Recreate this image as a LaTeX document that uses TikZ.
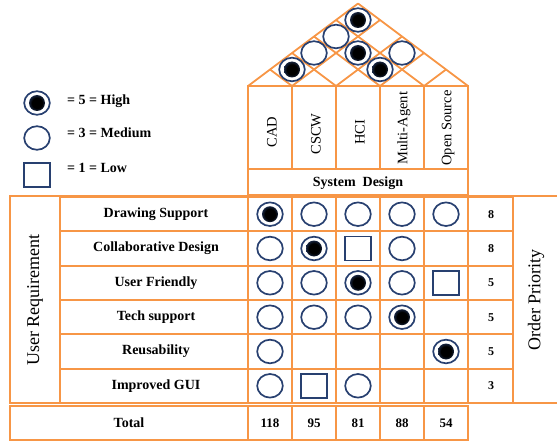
\documentclass[tikz,border=0pt]{standalone}
\usepackage{fontspec}
\setmainfont{Liberation Serif}
\definecolor{org}{RGB}{247,150,70}
\definecolor{navyc}{RGB}{40,64,112}
\pgfdeclareradialshading{hdot}{\pgfpoint{0bp}{0bp}}{color(0bp)=(black); color(16bp)=(black); color(33bp)=(navyc); color(50bp)=(white)}
\tikzset{
  ln/.style={draw=org, line width=1.8pt},
  symline/.style={draw=navyc, line width=1.7pt},
  lbl/.style={font=\bfseries\fontsize{14}{16}\selectfont, inner sep=0pt},
  hdr/.style={font=\fontsize{14.5}{16}\selectfont, rotate=90, inner sep=0pt},
  big/.style={font=\fontsize{18}{20}\selectfont, rotate=90, inner sep=0pt},
  num/.style={font=\bfseries\fontsize{13}{15}\selectfont, inner sep=0pt},
  pnum/.style={font=\bfseries\fontsize{12}{14}\selectfont, inner sep=0pt}
}
\newcommand\qqH[2]{\draw[symline] (#1,#2) ellipse [x radius=12.8pt, y radius=11.8pt];
  \shade[shading=hdot] (#1,#2) circle [radius=8pt];}
\newcommand\qqM[2]{\draw[symline] (#1,#2) ellipse [x radius=12.8pt, y radius=11.8pt];}
\newcommand\qqL[2]{\draw[symline] ($(#1,#2)+(-13pt,-12pt)$) rectangle ($(#1,#2)+(13pt,12pt)$);}
\usetikzlibrary{calc}
\begin{document}
\begin{tikzpicture}[x=1pt,y=-1pt]
\useasboundingbox (0,0) rectangle (557,441);
% ---------- roof ----------
\foreach \k in {0,...,5}{
  \pgfmathsetmacro\bx{248+44*\k}
  \draw[ln] (\bx,86) -- ({(\bx+468)/2},{86-0.375*(468-\bx)});
  \draw[ln] (\bx,86) -- ({(\bx+248)/2},{86-0.375*(\bx-248)});
}
% ---------- house columns ----------
\draw[ln] (248,86) rectangle (468,169);
\foreach \x in {292,336,380,424} \draw[ln] (\x,86) -- (\x,169);
\draw[ln] (248,169) rectangle (468,195);
\node[hdr] (cad) at (272,132) {CAD};
\node[hdr] (cscw) at (316,134) {CSCW};
\node[hdr] (hci) at (360,132) {HCI};
\node[hdr] (ma) at (404,128) {Multi-Agent};
\node[hdr] (os) at (448,128) {Open Source};
\node[lbl] (sd) at (358,183) {System\ \ Design};
% ---------- roof symbols ----------
\qqH{358}{20}
\qqM{336}{36.5}
\qqM{314}{53}
\qqH{292}{69.5}
\qqH{358}{53}
\qqM{402}{53}
\qqH{380}{69.5}
% ---------- legend ----------
\qqH{37}{103}
\qqM{37}{138}
\qqL{37}{175}
\node[lbl, anchor=west] (lh) at (67,101) {= 5 = High};
\node[lbl, anchor=west] (lm) at (67,133) {= 3 = Medium};
\node[lbl, anchor=west] (ll) at (67,168) {= 1 = Low};
% ---------- main grid ----------
\draw[org, line width=2.8pt] (10,196) -- (557,196);
\draw[ln] (10,196) rectangle (60,403);
\foreach \y in {197,231.33,265.67,300,334.33,368.67,403} \draw[ln] (60,\y) -- (513,\y);
\foreach \x in {60,248,292,336,380,424,468,513} \draw[ln] (\x,197) -- (\x,403);
\draw[ln] (513,403) -- (557,403);
\node[big] (ur) at (35,300) {User Requirement};
\node[big] (op) at (536,300) {Order Priority};
% requirement labels
\node[lbl] (r1) at (156,214.2) {Drawing Support};
\node[lbl] (r2) at (156,248.5) {Collaborative Design};
\node[lbl] (r3) at (156,282.8) {User Friendly};
\node[lbl] (r4) at (156,317.2) {Tech support};
\node[lbl] (r5) at (156,351.5) {Reusability};
\node[lbl] (r6) at (156,385.8) {Improved GUI};
% priorities
\node[pnum] (p1) at (491,214.2) {8};
\node[pnum] (p2) at (491,248.5) {8};
\node[pnum] (p3) at (491,282.8) {5};
\node[pnum] (p4) at (491,317.2) {5};
\node[pnum] (p5) at (491,351.5) {5};
\node[pnum] (p6) at (491,385.8) {3};
% matrix symbols
\qqH{270}{214.2} \qqM{314}{214.2} \qqM{358}{214.2} \qqM{402}{214.2} \qqM{446}{214.2}
\qqM{270}{248.5} \qqH{314}{248.5} \qqL{358}{248.5} \qqM{402}{248.5}
\qqM{270}{282.8} \qqM{314}{282.8} \qqH{358}{282.8} \qqM{402}{282.8} \qqL{446}{282.8}
\qqM{270}{317.2} \qqM{314}{317.2} \qqM{358}{317.2} \qqH{402}{317.2}
\qqM{270}{351.5} \qqH{446}{351.5}
\qqM{270}{385.8} \qqL{314}{385.8} \qqM{358}{385.8}
% ---------- total row ----------
\draw[ln] (10,406) rectangle (468,440);
\foreach \x in {248,292,336,380,424} \draw[ln] (\x,406) -- (\x,440);
\node[lbl] (tot) at (129,423) {Total};
\node[num] (t1) at (270,423) {118};
\node[num] (t2) at (314,423) {95};
\node[num] (t3) at (358,423) {81};
\node[num] (t4) at (402,423) {88};
\node[num] (t5) at (446,423) {54};
\end{tikzpicture}
\end{document}
